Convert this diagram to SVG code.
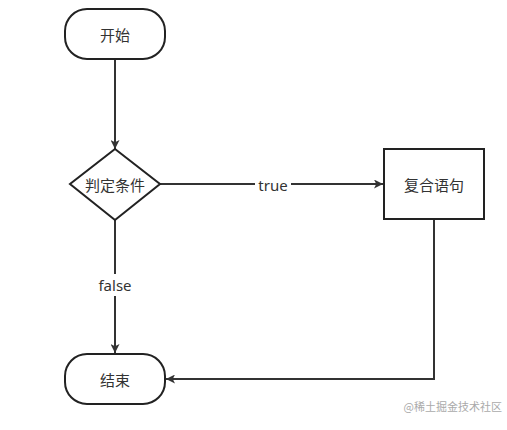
<svg xmlns="http://www.w3.org/2000/svg" width="507" height="430" viewBox="0 0 507 430">
<style>
.shape{fill:#fff;stroke:#222;stroke-width:2}
.lbl{font-family:"Noto Sans CJK SC","Noto Sans",sans-serif;font-size:15px;fill:#333;text-anchor:middle;dominant-baseline:central}
.edge{fill:none;stroke:#333;stroke-width:2}
.elbl{font-family:"Noto Sans","Noto Sans CJK SC",sans-serif;font-size:15px;fill:#333;text-anchor:middle;dominant-baseline:central}
</style>
<defs>
<marker id="arr" viewBox="0 0 10 10" refX="10" refY="5" markerWidth="9" markerHeight="9" markerUnits="userSpaceOnUse" orient="auto">
<path d="M0,0 L10,5 L0,10 L2.5,5 Z" fill="#333"/>
</marker>
</defs>
<rect width="507" height="430" fill="#fff"/>
<g id="edges">
<path class="edge" d="M115,59 V149" marker-end="url(#arr)"/>
<path class="edge" d="M160,184 H383" marker-end="url(#arr)"/>
<path class="edge" d="M115,220 V353" marker-end="url(#arr)"/>
<path class="edge" d="M434,219 V379 H166" marker-end="url(#arr)"/>
<rect x="255" y="175" width="36" height="20" fill="#fff"/>
<text class="elbl" x="273" y="185">true</text>
<rect x="95" y="274" width="40" height="22" fill="#fff"/>
<text class="elbl" x="115" y="285">false</text>
</g>
<g id="start">
<rect class="shape" x="65" y="9" width="100" height="50" rx="22" ry="22"/>
<text class="lbl" x="115" y="34">开始</text>
</g>
<g id="cond">
<polygon class="shape" points="115,149 160,184 115,220 70,184"/>
<text class="lbl" x="115" y="184">判定条件</text>
</g>
<g id="stmt">
<rect class="shape" x="384" y="149" width="100" height="70"/>
<text class="lbl" x="434" y="184">复合语句</text>
</g>
<g id="end">
<rect class="shape" x="65" y="354" width="100" height="50" rx="22" ry="22"/>
<text class="lbl" x="115" y="379">结束</text>
</g>
<text x="502" y="411" font-family="Noto Sans CJK SC,sans-serif" font-size="11" fill="#aaa" text-anchor="end">@稀土掘金技术社区</text>
</svg>
